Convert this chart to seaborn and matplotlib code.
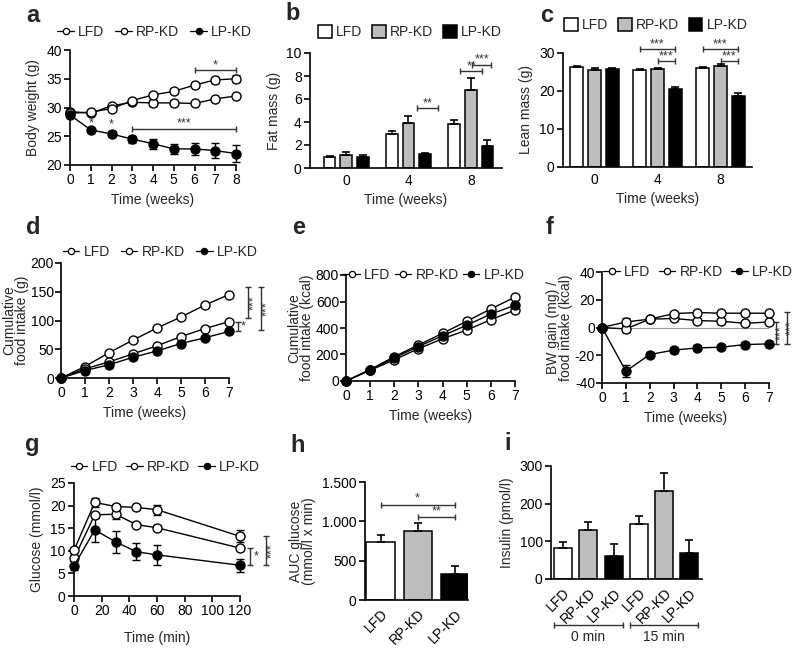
import numpy as np
import pandas as pd
import seaborn as sns
import matplotlib.pyplot as plt
from matplotlib.lines import Line2D
from matplotlib.patches import Patch

# ---------------- data ----------------
groups = ["LFD", "RP-KD", "LP-KD"]

# a: body weight (g)
weeks_a = [0, 1, 2, 3, 4, 5, 6, 7, 8]
bw_lfd = [29.3, 29.0, 30.3, 30.9, 30.8, 30.8, 30.7, 31.5, 32.0]
bw_lfd_err = [0.3, 0.3, 0.3, 0.3, 0.5, 0.4, 0.3, 0.3, 0.3]
bw_rp = [29.0, 29.2, 29.8, 31.2, 32.2, 32.8, 33.9, 34.8, 35.0]
bw_rp_err = [0.3, 0.3, 0.3, 0.3, 0.3, 0.3, 0.4, 0.5, 0.6]
bw_lp = [28.7, 26.1, 25.4, 24.5, 23.7, 22.8, 22.8, 22.5, 22.0]
bw_lp_err = [0.3, 0.3, 0.5, 0.6, 0.9, 0.9, 1.1, 1.3, 1.4]

# b: fat mass (g), c: lean mass (g)
mass_weeks = ["0", "4", "8"]
fat_lfd = [0.95, 2.95, 3.85]
fat_rp = [1.1, 3.9, 6.8]
fat_lp = [1.0, 1.2, 1.9]
fat_lfd_err = [0.1, 0.25, 0.3]
fat_rp_err = [0.25, 0.65, 1.0]
fat_lp_err = [0.1, 0.08, 0.55]
lean_lfd = [26.3, 25.5, 26.1]
lean_rp = [25.4, 25.8, 26.7]
lean_lp = [25.7, 20.5, 18.6]
lean_lfd_err = [0.4, 0.3, 0.3]
lean_rp_err = [0.6, 0.3, 0.4]
lean_lp_err = [0.4, 0.6, 1.0]

# d: cumulative food intake (g), e: (kcal)
weeks_d = [0, 1, 2, 3, 4, 5, 6, 7]
food_g_lfd = [0, 20, 44, 66, 87, 106, 127, 145]
food_g_rp = [0, 16, 28, 42, 56, 72, 86, 98]
food_g_lp = [0, 13, 23, 36, 47, 60, 70, 81]
food_kcal_lfd = [0, 81, 160, 244, 319, 384, 463, 535]
food_kcal_rp = [0, 86, 184, 272, 360, 451, 544, 633]
food_kcal_lp = [0, 84, 175, 260, 342, 421, 505, 572]

# f: BW gain (mg) / food intake (kcal)
eff_lfd = [0, -1, 6, 6.5, 5, 4.5, 3, 4]
eff_rp = [0, 4, 6, 10, 10.8, 10.3, 10.3, 10.3]
eff_lp = [0, -31.5, -19.5, -16.3, -14.7, -14.2, -12.3, -11.8]
eff_lfd_err = [0, 2.0, 1, 1, 1, 1, 1, 1]
eff_rp_err = [0, 2.5, 1, 1, 1, 1, 1, 1]
eff_lp_err = [0, 4.5, 2.0, 2.0, 1.8, 1.0, 1.5, 1.7]

# g: glucose tolerance (mmol/l)
glc_time = [0, 15, 30, 45, 60, 120]
glc_lfd = [8.3, 17.95, 18.1, 15.8, 15.1, 10.6]
glc_rp = [10.1, 20.7, 19.8, 19.6, 19.1, 13.2]
glc_lp = [6.7, 14.6, 12.0, 9.8, 9.1, 6.8]
glc_lfd_err = [0.6, 0.5, 1.0, 0.3, 0.6, 0.4]
glc_rp_err = [0.5, 1.0, 0.6, 0.6, 1.1, 1.3]
glc_lp_err = [1.0, 2.7, 2.4, 1.9, 2.2, 1.4]

# h: AUC glucose
auc = [740, 875, 330]
auc_err = [85, 105, 105]
auc_ticks = [0, 500, 1000, 1500]
auc_ticklabels = ["0", "500", "1.000", "1.500"]

# i: insulin (pmol/l)
ins_cond = ["LFD 0", "RP-KD 0", "LP-KD 0", "LFD 15", "RP-KD 15", "LP-KD 15"]
ins_group = ["LFD", "RP-KD", "LP-KD", "LFD", "RP-KD", "LP-KD"]
ins_val = [82, 130, 62, 145, 234, 69]
ins_err = [15, 22, 31, 22, 47, 35]
ins_periods = ["0 min", "15 min"]

dot_face = {"LFD": "white", "RP-KD": "white", "LP-KD": "black"}
bar_face = {"LFD": "white", "RP-KD": "#bdbdbd", "LP-KD": "black"}
brk = "#333333"

sns.set_style("ticks")
plt.rcParams['font.family'] = ['Liberation Sans', 'DejaVu Sans']
plt.rcParams['axes.unicode_minus'] = False
plt.rcParams['font.size'] = 10
plt.rcParams['axes.edgecolor'] = 'black'
plt.rcParams['xtick.color'] = 'black'
plt.rcParams['ytick.color'] = 'black'

fig = plt.figure(figsize=(8, 6.48), dpi=100)


def make_ax(l, t, r, b):
    ax = fig.add_axes([l / 800, 1 - b / 648, (r - l) / 800, (b - t) / 648])
    sns.despine(ax=ax)
    for s in ax.spines.values():
        s.set_linewidth(1.2)
    ax.tick_params(direction='out', length=4, width=1.2, labelsize=10, pad=2)
    return ax


def draw_lines(ax, x, ys, errs):
    for g, y, e in zip(groups, ys, errs):
        ax.errorbar(x, y, yerr=e, fmt='none', ecolor='black', elinewidth=1,
                    capsize=3, capthick=1, zorder=2, clip_on=False)
        sns.lineplot(x=x, y=y, ax=ax, color='black', linewidth=1, marker='o',
                     markersize=6.5, markerfacecolor=dot_face[g],
                     markeredgecolor='black', markeredgewidth=1, zorder=3,
                     clip_on=False)


def line_legend(ax, cx, cy, colsp=0.8):
    h = [Line2D([0], [0], color='black', lw=0.9, marker='o', ms=4.5,
                mfc=dot_face[g], mec='black', mew=0.9) for g in groups]
    ax.legend(h, groups, loc='center', bbox_to_anchor=(cx, cy), ncol=3,
              frameon=False, handlelength=1.2, handletextpad=0.3,
              columnspacing=colsp, fontsize=10, borderaxespad=0, borderpad=0)


def bar_legend(ax, cx, cy):
    h = [Patch(facecolor=bar_face[g], edgecolor='black', lw=1.1) for g in groups]
    ax.legend(h, groups, loc='center', bbox_to_anchor=(cx, cy), ncol=3,
              frameon=False, handlelength=1.0, handleheight=1.0,
              handletextpad=0.3, columnspacing=0.7, fontsize=10,
              borderaxespad=0, borderpad=0)


def bar_errors(ax, errs):
    bars = sorted(ax.patches, key=lambda p: p.get_x())
    xs = [p.get_x() + p.get_width() / 2 for p in bars]
    hs = [p.get_height() for p in bars]
    ax.errorbar(xs, hs, yerr=[np.zeros(len(errs)), errs], fmt='none',
                ecolor='black', elinewidth=1.2, capsize=3, capthick=1.2,
                zorder=3, clip_on=False)
    return bars, xs


def hbracket(ax, x1, x2, y, text, dy):
    ax.plot([x1, x2], [y, y], color=brk, lw=1, marker='|', ms=5, mew=1,
            clip_on=False)
    ax.text((x1 + x2) / 2, y + dy, text, ha='center', va='center',
            fontsize=9, color=brk)


def vbracket(ax, x, y1, y2, text, dx, rot=90):
    ax.plot([x, x], [y1, y2], color=brk, lw=1, marker='_', ms=5, mew=1,
            clip_on=False)
    ax.text(x + dx, (y1 + y2) / 2, text, ha='center', va='center',
            fontsize=9, color=brk, rotation=rot)


# ---- a ----
ax = make_ax(70, 50, 236, 165)
draw_lines(ax, weeks_a, [bw_lfd, bw_rp, bw_lp], [bw_lfd_err, bw_rp_err, bw_lp_err])
ax.set_xlim(0, 8)
ax.set_ylim(20, 40)
ax.set_xticks(weeks_a)
ax.set_yticks([20, 25, 30, 35, 40])
ax.set_xlabel("Time (weeks)")
ax.set_ylabel("Body weight (g)")
hbracket(ax, 6, 8, 36.5, "*", 0.9)
hbracket(ax, 3, 8, 26.3, "***", 0.9)
ax.text(1, 27.2, "*", ha='center', va='center', fontsize=9, color=brk)
ax.text(2, 27.0, "*", ha='center', va='center', fontsize=9, color=brk)
line_legend(ax, 0.51, 1.157)

# ---- b ----
ax = make_ax(310, 53, 502, 168)
df = pd.DataFrame({"week": mass_weeks * 3,
                   "group": [g for g in groups for _ in mass_weeks],
                   "val": fat_lfd + fat_rp + fat_lp})
sns.barplot(data=df, x="week", y="val", hue="group", order=mass_weeks,
            hue_order=groups, palette=bar_face, saturation=1, edgecolor='black',
            linewidth=1.1, width=0.8, gap=0.3, errorbar=None, legend=False, ax=ax)
err = [e for trio in zip(fat_lfd_err, fat_rp_err, fat_lp_err) for e in trio]
bars, xs = bar_errors(ax, err)
ax.set_xlim(-0.58, 2.5)
ax.set_ylim(0, 10)
ax.set_yticks([0, 2, 4, 6, 8, 10])
ax.set_xlabel("Time (weeks)")
ax.set_ylabel("Fat mass (g)")
ax.tick_params(axis='x', length=0, pad=4)
hbracket(ax, xs[4] + 0.14, xs[5] + 0.2, 5.2, "**", 0.45)
hbracket(ax, xs[6] + 0.1, xs[7] + 0.18, 8.4, "**", 0.45)
hbracket(ax, xs[7] + 0.02, xs[8] + 0.06, 9.0, "***", 0.45)
bar_legend(ax, 0.52, 1.18)

# ---- c ----
ax = make_ax(563, 53, 752, 167)
df = pd.DataFrame({"week": mass_weeks * 3,
                   "group": [g for g in groups for _ in mass_weeks],
                   "val": lean_lfd + lean_rp + lean_lp})
sns.barplot(data=df, x="week", y="val", hue="group", order=mass_weeks,
            hue_order=groups, palette=bar_face, saturation=1, edgecolor='black',
            linewidth=1.1, width=0.85, gap=0.27, errorbar=None, legend=False, ax=ax)
err = [e for trio in zip(lean_lfd_err, lean_rp_err, lean_lp_err) for e in trio]
bars, xs = bar_errors(ax, err)
ax.set_xlim(-0.5, 2.5)
ax.set_ylim(0, 30)
ax.set_yticks([0, 10, 20, 30])
ax.set_xlabel("Time (weeks)")
ax.set_ylabel("Lean mass (g)")
ax.tick_params(axis='x', length=0, pad=4)
hbracket(ax, xs[3], xs[5], 31.0, "***", 1.3)
hbracket(ax, xs[4], xs[5], 27.9, "***", 1.3)
hbracket(ax, xs[6], xs[8], 31.0, "***", 1.3)
hbracket(ax, xs[7], xs[8], 27.9, "***", 1.3)
bar_legend(ax, 0.49, 1.245)

# ---- d ----
ax = make_ax(61, 263, 229, 378)
draw_lines(ax, weeks_d, [food_g_lfd, food_g_rp, food_g_lp], [None, None, None])
ax.set_xlim(0, 7)
ax.set_ylim(0, 200)
ax.set_xticks(weeks_d)
ax.set_yticks([0, 50, 100, 150, 200])
ax.tick_params(axis='y', pad=1)
ax.set_xlabel("Time (weeks)")
ax.set_ylabel("Cumulative\nfood intake (g)", linespacing=0.95, labelpad=1)
vbracket(ax, 7.38, 98, 81, "*", 0.22, rot=0)
vbracket(ax, 7.8, 158, 104, "***", 0.25)
vbracket(ax, 8.33, 158, 83, "***", 0.25)
line_legend(ax, 0.59, 1.096)

# ---- e ----
ax = make_ax(346, 275, 515, 381)
draw_lines(ax, weeks_d, [food_kcal_lfd, food_kcal_rp, food_kcal_lp], [None, None, None])
ax.set_xlim(0, 7)
ax.set_ylim(0, 800)
ax.set_xticks(weeks_d)
ax.set_yticks([0, 200, 400, 600, 800])
ax.tick_params(axis='y', pad=1)
ax.set_xlabel("Time (weeks)")
ax.set_ylabel("Cumulative\nfood intake (kcal)", linespacing=0.95, labelpad=1)
line_legend(ax, 0.52, 1.0, colsp=0.3)

# ---- f ----
ax = make_ax(602, 272, 769, 383)
ax.axhline(0, color='0.6', lw=0.8, zorder=1)
draw_lines(ax, weeks_d, [eff_lfd, eff_rp, eff_lp], [eff_lfd_err, eff_rp_err, eff_lp_err])
ax.set_xlim(0, 7)
ax.set_ylim(-40, 40)
ax.set_xticks(weeks_d)
ax.set_yticks([-40, -20, 0, 20, 40])
ax.tick_params(axis='y', pad=1)
ax.set_xlabel("Time (weeks)")
ax.set_ylabel("BW gain (mg) /\nfood intake (kcal)", linespacing=0.95, labelpad=1)
vbracket(ax, 7.3, 4, -11.8, "***", 0.2)
vbracket(ax, 7.75, 11.5, -11.8, "***", 0.2)
line_legend(ax, 0.575, 1.0, colsp=0.6)

# ---- g ----
ax = make_ax(74, 483, 240, 596)
draw_lines(ax, glc_time, [glc_lfd, glc_rp, glc_lp], [glc_lfd_err, glc_rp_err, glc_lp_err])
ax.set_xlim(0, 120)
ax.set_ylim(0, 25)
ax.set_xticks([0, 20, 40, 60, 80, 100, 120])
ax.set_yticks([0, 5, 10, 15, 20, 25])
ax.set_xlabel("Time (min)", labelpad=9)
ax.set_ylabel("Glucose (mmol/l)")
vbracket(ax, 127, 10.6, 6.8, "*", 4.5, rot=0)
vbracket(ax, 138.5, 13.3, 6.8, "***", 4.5)
line_legend(ax, 0.55, 1.14, colsp=0.6)

# ---- h ----
ax = make_ax(365, 482, 468, 600)
df = pd.DataFrame({"group": groups, "val": auc})
sns.barplot(data=df, x="group", y="val", hue="group", order=groups,
            hue_order=groups, palette=bar_face, saturation=1, edgecolor='black',
            linewidth=1.1, width=0.76, errorbar=None, legend=False, ax=ax)
bars, xs = bar_errors(ax, auc_err)
ax.set_xlim(-0.42, 2.36)
ax.set_ylim(0, 1500)
ax.set_yticks(auc_ticks)
ax.set_yticklabels(auc_ticklabels)
ax.set_xticks(xs)
ax.set_xticklabels(groups, rotation=45, ha='right', rotation_mode='anchor')
ax.tick_params(axis='x', length=0, pad=5)
ax.set_xlabel("")
ax.set_ylabel("AUC glucose\n(mmol/l x min)", linespacing=0.95)
hbracket(ax, xs[0], xs[2], 1213, "*", 75)
hbracket(ax, xs[1], xs[2], 1056, "**", 75)

# ---- i ----
ax = make_ax(551, 466, 702, 579)
df = pd.DataFrame({"cond": ins_cond, "group": ins_group, "val": ins_val})
sns.barplot(data=df, x="cond", y="val", hue="group", order=ins_cond,
            hue_order=groups, palette=bar_face, saturation=1, edgecolor='black',
            linewidth=1.1, width=0.72, dodge=False, errorbar=None, legend=False, ax=ax)
bars, xs = bar_errors(ax, ins_err)
ax.set_xlim(-0.48, 5.5)
ax.set_ylim(0, 300)
ax.set_yticks([0, 100, 200, 300])
ax.set_xticks(xs)
ax.set_xticklabels(ins_group, rotation=45, ha='right', rotation_mode='anchor')
ax.tick_params(axis='x', length=0, pad=5)
ax.set_xlabel("")
ax.set_ylabel("Insulin (pmol/l)")
tr = ax.get_xaxis_transform()
for k, lab in enumerate(ins_periods):
    left = bars[3 * k].get_x()
    right = bars[3 * k + 2].get_x() + bars[3 * k + 2].get_width()
    ax.plot([left, right], [-0.41, -0.41], color=brk, lw=1, marker='|', ms=5,
            mew=1, transform=tr, clip_on=False)
    ax.text((left + right) / 2, -0.51, lab, transform=tr, ha='center',
            va='center', fontsize=10)

# panel letters
for letter, px, py in [("a", 33, 15), ("b", 293, 13), ("c", 547, 15),
                       ("d", 33, 227), ("e", 299, 228), ("f", 550, 228),
                       ("g", 32, 445), ("h", 298, 445), ("i", 508, 443)]:
    fig.text(px / 800, 1 - py / 648, letter, ha='center', va='center',
             fontsize=17, fontweight='bold')

fig.savefig("out.png", dpi=100)
